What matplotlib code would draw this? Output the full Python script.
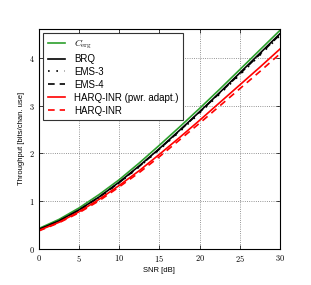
import matplotlib as mpl
mpl.use('Agg')
import matplotlib.pyplot as plt
from matplotlib.ticker import FuncFormatter

# values
snr_db = [0, 2.5, 5, 7.5, 10, 12.5, 15, 17.5, 20, 22.5, 25, 27.5, 30]
c_erg = [0.43, 0.62, 0.86, 1.14, 1.45, 1.80, 2.17, 2.55, 2.94, 3.34, 3.75, 4.16, 4.57]
brq = [0.41, 0.59, 0.82, 1.09, 1.40, 1.74, 2.10, 2.48, 2.87, 3.27, 3.68, 4.09, 4.50]
ems3 = [0.40, 0.58, 0.81, 1.08, 1.38, 1.72, 2.08, 2.45, 2.84, 3.24, 3.64, 4.05, 4.46]
ems4 = [0.405, 0.585, 0.815, 1.085, 1.39, 1.73, 2.09, 2.47, 2.86, 3.26, 3.66, 4.07, 4.48]
harq_pwr = [0.39, 0.56, 0.78, 1.04, 1.33, 1.64, 1.98, 2.33, 2.69, 3.06, 3.43, 3.80, 4.18]
harq_inr = [0.38, 0.55, 0.76, 1.01, 1.30, 1.60, 1.93, 2.28, 2.63, 2.99, 3.35, 3.71, 4.08]

plt.rcParams['mathtext.fontset'] = 'cm'
plt.rcParams['font.family'] = 'Liberation Sans'

fig = plt.figure(figsize=(3.11, 2.85), dpi=100)
ax = fig.add_axes([0.125, 0.126, 0.775, 0.774])

lw = 1.2
dots = (0, (1, 4))
dashes = (0, (4, 3))
ax.plot(snr_db, c_erg, color='#2ca02c', lw=lw, label=r'$C_{\mathrm{erg}}$')
ax.plot(snr_db, brq, color='k', lw=lw, label='BRQ')
ax.plot(snr_db, ems3, color='k', lw=lw, ls=dots, label='EMS-3')
ax.plot(snr_db, ems4, color='k', lw=lw, ls=dashes, label='EMS-4')
ax.plot(snr_db, harq_pwr, color='r', lw=lw, label='HARQ-INR (pwr. adapt.)')
ax.plot(snr_db, harq_inr, color='r', lw=lw, ls=dashes, label='HARQ-INR')

ax.set_xlim(0, 30)
ax.set_ylim(0, 4.61)
ax.set_xticks([0, 5, 10, 15, 20, 25, 30])
ax.set_yticks([0, 1, 2, 3, 4])
fmt = FuncFormatter(lambda v, p: r'$%d$' % v)
ax.xaxis.set_major_formatter(fmt)
ax.yaxis.set_major_formatter(fmt)
ax.tick_params(direction='in', top=True, right=True, labelsize=6, length=3, width=0.5, pad=3)
ax.grid(True, ls=':', color='0.45', lw=0.6)
for s in ax.spines.values():
    s.set_linewidth(0.8)

ax.set_xlabel('SNR [dB]', fontsize=5.5, labelpad=2)
ax.set_ylabel('Throughput [bits/chan. use]', fontsize=5.5, labelpad=3)

leg = ax.legend(loc='upper left', fontsize=7, fancybox=False, framealpha=1,
                edgecolor='0.2', handlelength=1.75, handletextpad=0.9,
                labelspacing=0.3, borderpad=0.5, borderaxespad=0.45)
leg.get_frame().set_linewidth(0.8)

fig.savefig('out.png', dpi=100)
